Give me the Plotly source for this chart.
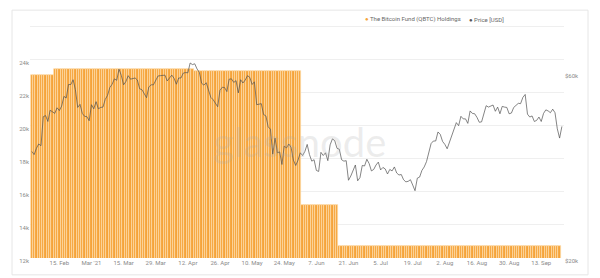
import math
import pandas as pd
import plotly.graph_objects as go

# ---------------- data ----------------
hold_start = "2021-02-03"
hold_end = "2021-09-21"
# holdings step levels (start date, BTC held)
hold_steps_dates = ["2021-02-03", "2021-02-13", "2021-04-15", "2021-06-01", "2021-06-17"]
hold_steps_values = [23100, 23420, 23300, 15230, 12730]

price_start = "2021-02-03"
price_values = [
    37.6, 36.9, 38.3, 39.3, 38.9, 46.2, 46.5, 44.9, 48.0, 47.5, 47.1, 48.7, 47.9, 49.2, 52.1, 51.6,
    55.9, 55.9, 57.5, 54.2, 48.8, 49.7, 47.1, 46.3, 46.2, 45.1,
    49.6, 48.4, 50.5, 48.4, 48.8, 48.9, 51.2, 52.4, 54.9, 56.0, 57.8, 57.3, 61.2, 59.0, 55.8, 56.9,
    58.9, 57.7, 58.0, 58.1, 57.4, 54.5, 54.2, 52.8, 51.7, 55.1, 55.8, 55.8, 57.6, 58.8, 58.9,
    59.0, 59.1, 57.1, 58.2, 59.1, 58.0, 56.0, 58.1, 58.1, 59.8, 60.0, 59.9, 63.5, 62.9, 63.2, 61.3,
    60.1, 56.3, 55.7, 56.5, 53.8, 51.8, 51.1, 50.1, 49.0, 54.0, 55.0, 54.9, 53.6, 57.7,
    57.8, 56.6, 57.2, 53.2, 57.5, 56.4, 57.4, 58.9, 58.3, 55.9, 56.8, 49.6, 49.7, 49.9, 46.8, 46.4,
    43.5, 42.9, 37.0, 40.7, 37.3, 37.5, 34.8, 38.8, 38.4, 39.3, 38.5, 35.7, 34.6, 35.7, 37.3,
    36.7, 37.6, 39.2, 36.9, 35.5, 35.8, 33.6, 33.4, 37.4, 36.7, 37.3, 35.6, 39.1, 40.5, 40.1, 38.3,
    38.1, 35.8, 35.5, 35.6, 31.7, 32.5, 33.7, 34.7, 31.6, 32.2, 34.6, 34.5, 35.9, 35.0,
    33.5, 33.8, 34.7, 35.3, 33.7, 34.2, 33.9, 32.9, 33.8, 33.5, 34.3, 33.1, 32.7, 32.8, 31.8, 31.4,
    31.5, 31.8, 30.8, 29.8, 32.1, 32.3, 33.6, 34.3, 35.4, 37.3, 39.4, 40.0, 40.0, 42.2, 41.6,
    39.9, 39.2, 38.2, 39.7, 40.9, 42.9, 44.6, 43.8, 46.3, 45.6, 45.6, 44.4, 47.8, 47.1, 47.0, 46.0,
    44.7, 44.8, 46.7, 49.3, 48.9, 49.3, 49.5, 47.7, 48.9, 47.0, 49.1, 48.9, 48.8, 47.0, 47.2,
    48.8, 49.3, 50.0, 49.9, 51.8, 52.7, 46.9, 46.1, 46.4, 44.9, 45.2, 46.1, 44.9, 47.1, 48.1, 47.8,
    47.3, 48.3, 47.3, 43.0, 40.7, 43.6,
]

x_tick_dates = ["2021-02-15", "2021-03-01", "2021-03-15", "2021-03-29", "2021-04-12", "2021-04-26",
                "2021-05-10", "2021-05-24", "2021-06-07", "2021-06-21", "2021-07-05", "2021-07-19",
                "2021-08-02", "2021-08-16", "2021-08-30", "2021-09-13"]
x_tick_text = ["15. Feb", "Mar '21", "15. Mar", "29. Mar", "12. Apr", "26. Apr", "10. May", "24. May",
               "7. Jun", "21. Jun", "5. Jul", "19. Jul", "2. Aug", "16. Aug", "30. Aug", "13. Sep"]
left_tick_vals = [12000, 14000, 16000, 18000, 20000, 22000, 24000, 26000]
left_tick_text = ["12k", "14k", "16k", "18k", "20k", "22k", "24k", ""]
right_tick_vals = [20000, 60000]
right_tick_text = ["$20k", "$60k"]

# ---------------- build series ----------------
hold_dates = pd.date_range(hold_start, hold_end, freq="D")
step_dates = pd.to_datetime(hold_steps_dates)
hold_vals = []
for d in hold_dates:
    v = hold_steps_values[0]
    for sd, sv in zip(step_dates, hold_steps_values):
        if d >= sd:
            v = sv
    hold_vals.append(v)

price_dates = pd.date_range(price_start, periods=len(price_values), freq="D")
price_usd = [p * 1000 for p in price_values]

ORANGE = "#f5a33a"
FONT = "Roboto"
GREY = "#8a8a8a"

fig = go.Figure()
fig.add_trace(go.Bar(x=hold_dates, y=hold_vals,
                     marker=dict(color=ORANGE, line=dict(width=0.7, color="#fcdcae")),
                     name="The Bitcoin Fund (QBTC) Holdings", showlegend=False))
fig.add_trace(go.Scatter(x=price_dates, y=price_usd, yaxis="y2", mode="lines",
                         line=dict(color="#505050", width=0.7), name="Price [USD]", showlegend=False))

W, H = 600, 278
L, R, T, B = 30, 36, 25, 18
pw = W - L - R
ph = H - T - B

def px_x(x):
    return (x - L) / pw

def px_y(y):
    return (H - B - y) / ph

fig.update_layout(
    width=W, height=H,
    margin=dict(l=L, r=R, t=T, b=B, pad=0),
    paper_bgcolor="white", plot_bgcolor="white",
    bargap=0.0,
    font=dict(family=FONT, size=6, color=GREY),
    xaxis=dict(type="date", range=["2021-02-02 05:00", "2021-09-22 22:00"],
               tickvals=x_tick_dates, ticktext=x_tick_text, showgrid=False,
               showline=False, zeroline=False, ticks="", tickfont=dict(size=6, color=GREY)),
    yaxis=dict(range=[12000, 26100], tickvals=left_tick_vals, ticktext=left_tick_text,
               showgrid=True, gridcolor="#efefef", gridwidth=1, zeroline=False,
               ticks="", tickfont=dict(size=6, color=GREY), ticklabelshift=3),
    yaxis2=dict(type="log", overlaying="y", side="right",
                range=[math.log10(20000), math.log10(20000) + ph / 392.0],
                tickvals=right_tick_vals, ticktext=right_tick_text, showgrid=False,
                zeroline=False, ticks="", tickfont=dict(size=6, color=GREY), ticklabelshift=3),
    showlegend=False,
)

fig.add_shape(type="rect", xref="paper", yref="paper",
              x0=px_x(12), x1=px_x(588), y0=px_y(277), y1=px_y(10),
              line=dict(color="#e6e6e6", width=1), layer="below")

fig.add_annotation(text="glassnode", xref="paper", yref="paper", x=px_x(299), y=px_y(143),
                   showarrow=False, font=dict(family="Lato", size=40, color="rgba(170,170,170,0.22)"))

fig.add_annotation(text="<span style='color:%s'>●</span> The Bitcoin Fund (QBTC) Holdings" % ORANGE,
                   xref="paper", yref="paper", x=px_x(363), y=px_y(19), xanchor="left",
                   yanchor="middle", showarrow=False, font=dict(family=FONT, size=6, color="#666"))
fig.add_annotation(text="<span style='color:#555'>●</span> Price [USD]",
                   xref="paper", yref="paper", x=px_x(467), y=px_y(19), xanchor="left",
                   yanchor="middle", showarrow=False, font=dict(family=FONT, size=6, color="#666"))

fig.write_html("out.html")
